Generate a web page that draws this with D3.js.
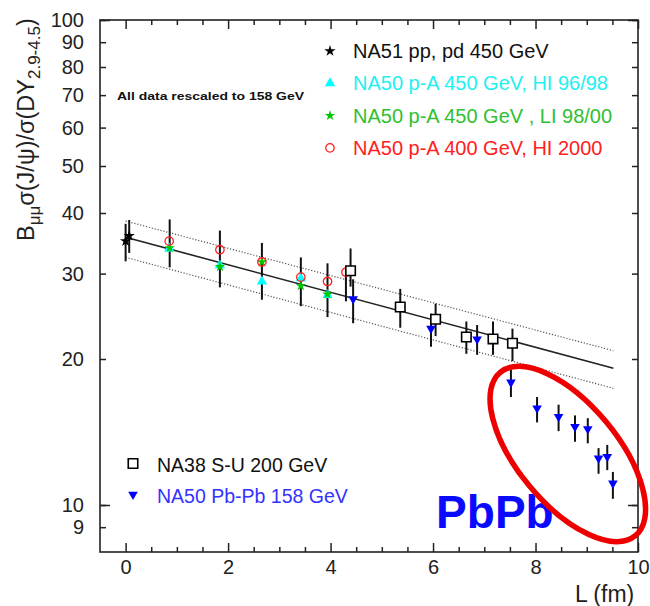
<!DOCTYPE html>
<html>
<head>
<meta charset="utf-8">
<script src="https://cdn.jsdelivr.net/npm/d3@7"></script>
<style>
  body { margin: 0; background: #fff; }
  svg { display: block; }
  text { font-family: "Liberation Sans", Arial, Helvetica, sans-serif; }
</style>
</head>
<body>
<svg id="chart" width="650" height="606"></svg>
<script>
// J/psi / Drell-Yan ratio versus path length L, all rescaled to 158 GeV.

// NA51 pp, pd 450 GeV
const na51L   = [0.00, 0.07];
const na51Val = [35.0, 35.9];
const na51Lo  = [31.8, 33.1];
const na51Hi  = [38.0, 38.7];

// NA50 p-A 450 GeV, HI 96/98
const hiL   = [0.85, 1.84, 2.66, 3.42, 3.94];
const hiVal = [33.8, 31.2, 28.9, 29.3, 27.1];

// NA50 p-A 450 GeV, LI 98/00 (error bars shared by the p-A points)
const liL   = [0.86, 1.84, 2.66, 3.42, 3.94];
const liVal = [33.9, 31.0, 31.7, 28.3, 27.2];
const liLo  = [30.9, 28.1, 26.5, 25.7, 24.4];
const liHi  = [38.8, 36.8, 34.7, 32.4, 31.5];

// NA50 p-A 400 GeV, HI 2000
const hi2000L   = [0.85, 1.84, 2.66, 3.42, 3.94, 4.30];
const hi2000Val = [35.0, 33.6, 31.7, 29.5, 28.9, 30.2];
const hi2000Lo  = [null, null, null, null, null, 26.3];
const hi2000Hi  = [null, null, null, null, null, 31.0];

// NA38 S-U 200 GeV
const suL   = [4.39, 5.36, 6.05, 6.65, 7.17, 7.55];
const suVal = [30.4, 25.6, 24.15, 22.2, 22.0, 21.55];
const suLo  = [28.2, 23.2, 22.3, 20.5, 20.4, 19.8];
const suHi  = [33.8, 27.9, 26.0, 23.9, 23.9, 23.1];

// NA50 Pb-Pb 158 GeV
const pbL   = [4.44, 5.96, 6.86, 7.52, 8.03, 8.45, 8.77, 9.02, 9.23, 9.40, 9.51];
const pbVal = [26.6, 23.1, 21.96, 17.9, 15.83, 15.21, 14.5, 14.35, 12.49, 12.58, 11.08];
const pbLo  = [23.7, 21.2, 20.4, 16.7, 14.8, 14.2, 13.5, 13.4, 11.6, 11.8, 10.3];
const pbHi  = [29.2, 24.8, 23.5, 19.0, 16.7, 16.1, 15.3, 15.1, 13.1, 13.3, 11.7];

// Exponential absorption fit (straight on the log axis) and its error band
const fitL     = [0, 9.52];
const fitVal   = [35.65, 19.14];
const fitUpper = [38.5, 20.8];
const fitLower = [32.4, 17.4];

// Axis ticks
const xMajorTicks = [0, 2, 4, 6, 8, 10];
const xMinorTicks = [0.5, 1, 1.5, 2.5, 3, 3.5, 4.5, 5, 5.5, 6.5, 7, 7.5, 8.5, 9, 9.5];
const yLabelTicks = [9, 10, 20, 30, 40, 50, 60, 70, 80, 90, 100];
const yMajorTicks = [10, 100];

// Legend labels
const topLegend = [
  "NA51 pp, pd 450 GeV",
  "NA50 p-A 450 GeV, HI 96/98",
  "NA50 p-A 450 GeV , LI 98/00",
  "NA50 p-A 400 GeV, HI 2000"
];
const bottomLegend = ["NA38 S-U 200 GeV", "NA50 Pb-Pb 158 GeV"];

// Highlighted Pb-Pb region
const highlightCenter = { L: 8.63, val: 12.74 };
const highlightLabel  = { L: 6.06, val: 8.98, text: "PbPb" };

const svg = d3.select("#chart");
const plotLeft = 100, plotRight = 638, plotTop = 20, plotBottom = 552;

const x = d3.scaleLinear().domain([-0.5, 10]).range([plotLeft, plotRight]);
const y = d3.scaleLog().domain([8, 100]).range([plotBottom, plotTop]);

const axisColor = "#222";

// ----- axes -----
function styleAxis(g) {
  g.select(".domain").remove();
  g.selectAll(".tick line").attr("stroke", axisColor).attr("stroke-width", 1.5);
  g.selectAll(".tick text")
    .attr("fill", axisColor)
    .style("font-family", "'Liberation Sans', Arial, sans-serif");
}

// bottom x axis with labels, ticks pointing into the plot
svg.append("g").attr("transform", `translate(0,${plotBottom})`)
  .call(d3.axisBottom(x).tickValues(xMajorTicks).tickSizeInner(-9).tickSizeOuter(0)
        .tickPadding(8).tickFormat(d3.format("d")))
  .call(styleAxis)
  .call(g => g.selectAll(".tick text").style("font-size", "20px"));
svg.append("g").attr("transform", `translate(0,${plotBottom})`)
  .call(d3.axisBottom(x).tickValues(xMinorTicks).tickSizeInner(-5).tickSizeOuter(0).tickFormat(""))
  .call(styleAxis);

// top mirror axis
svg.append("g").attr("transform", `translate(0,${plotTop})`)
  .call(d3.axisTop(x).tickValues(xMajorTicks).tickSizeInner(-9).tickSizeOuter(0).tickFormat(""))
  .call(styleAxis);
svg.append("g").attr("transform", `translate(0,${plotTop})`)
  .call(d3.axisTop(x).tickValues(xMinorTicks).tickSizeInner(-5).tickSizeOuter(0).tickFormat(""))
  .call(styleAxis);

// left log axis with labels
svg.append("g").attr("transform", `translate(${plotLeft},0)`)
  .call(d3.axisLeft(y).tickValues(yLabelTicks).tickSizeInner(-6).tickSizeOuter(0)
        .tickPadding(16).tickFormat(d3.format("d")))
  .call(styleAxis)
  .call(g => g.selectAll(".tick text").style("font-size", "20px"));
svg.append("g").attr("transform", `translate(${plotLeft},0)`)
  .call(d3.axisLeft(y).tickValues(yMajorTicks).tickSizeInner(-10).tickSizeOuter(0).tickFormat(""))
  .call(styleAxis);

// right mirror axis
svg.append("g").attr("transform", `translate(${plotRight},0)`)
  .call(d3.axisRight(y).tickValues(yLabelTicks).tickSizeInner(-6).tickSizeOuter(0).tickFormat(""))
  .call(styleAxis);
svg.append("g").attr("transform", `translate(${plotRight},0)`)
  .call(d3.axisRight(y).tickValues(yMajorTicks).tickSizeInner(-10).tickSizeOuter(0).tickFormat(""))
  .call(styleAxis);

// frame
svg.append("rect")
  .attr("x", plotLeft).attr("y", plotTop)
  .attr("width", plotRight - plotLeft).attr("height", plotBottom - plotTop)
  .attr("fill", "none").attr("stroke", axisColor).attr("stroke-width", 1.6);

// axis titles
const yTitle = svg.append("text")
  .attr("transform", `translate(34,241) rotate(-90)`)
  .attr("fill", axisColor)
  .style("font-size", "23.5px");
yTitle.append("tspan").text("B");
yTitle.append("tspan").attr("dy", 6).style("font-size", "17px").text("μμ");
yTitle.append("tspan").attr("dy", -6).text("σ(J/ψ)/σ(DY");
yTitle.append("tspan").attr("dy", 6).style("font-size", "17px").text("2.9-4.5");
yTitle.append("tspan").attr("dy", -6).text(")");

svg.append("text")
  .attr("x", 575).attr("y", 602)
  .attr("fill", axisColor)
  .style("font-size", "23px")
  .text("L (fm)");

svg.append("text")
  .attr("x", 117).attr("y", 100)
  .attr("fill", "#111")
  .attr("textLength", 187)
  .attr("lengthAdjust", "spacingAndGlyphs")
  .style("font-size", "11.5px").style("font-weight", "bold")
  .text("All data rescaled to 158 GeV");

// ----- fit line and band -----
const fitLine = d3.line().x(d => x(d[0])).y(d => y(d[1]));
[fitUpper, fitLower].forEach(vals => {
  svg.append("path")
    .datum(d3.zip(fitL, vals))
    .attr("d", fitLine)
    .attr("fill", "none")
    .attr("stroke", "#555")
    .attr("stroke-width", 1.2)
    .attr("stroke-dasharray", "1.2 1.8");
});
svg.append("path")
  .datum(d3.zip(fitL, fitVal))
  .attr("d", fitLine)
  .attr("fill", "none")
  .attr("stroke", "#222")
  .attr("stroke-width", 1.6);

// ----- error bars -----
function errorBars(Ls, lo, hi) {
  const rows = Ls.map((L, i) => ({ L, lo: lo[i], hi: hi[i] })).filter(d => d.lo != null);
  svg.append("g").selectAll("line").data(rows).join("line")
    .attr("x1", d => x(d.L)).attr("x2", d => x(d.L))
    .attr("y1", d => y(d.lo)).attr("y2", d => y(d.hi))
    .attr("stroke", "#111").attr("stroke-width", 2);
}
errorBars(na51L, na51Lo, na51Hi);
errorBars(liL, liLo, liHi);
errorBars(hi2000L, hi2000Lo, hi2000Hi);
errorBars(suL, suLo, suHi);
errorBars(pbL, pbLo, pbHi);

// ----- markers -----
const shapes = {
  star:    { type: d3.symbolStar,     size: 40, fill: "#000",    stroke: "none", rot: 0 },
  cyanTri: { type: d3.symbolTriangle, size: 46, fill: "#00ffff", stroke: "none", rot: 0 },
  gStar:   { type: d3.symbolStar,     size: 34, fill: "#00c800", stroke: "none", rot: 0 },
  circle:  { type: d3.symbolCircle,   size: 56, fill: "none",    stroke: "#ff2020", rot: 0, sw: 1.3 },
  square:  { type: d3.symbolSquare,   size: 90, fill: "#fff",    stroke: "#000",    rot: 0, sw: 1.6 },
  downTri: { type: d3.symbolTriangle, size: 40, fill: "#0000ff", stroke: "none", rot: 180 }
};

function drawSymbol(g, s, cx, cy) {
  g.append("path")
    .attr("d", d3.symbol().type(s.type).size(s.size)())
    .attr("transform", `translate(${cx},${cy}) rotate(${s.rot})`)
    .attr("fill", s.fill)
    .attr("stroke", s.stroke)
    .attr("stroke-width", s.sw || 0);
}

function series(Ls, vals, s) {
  const g = svg.append("g");
  Ls.forEach((L, i) => drawSymbol(g, s, x(L), y(vals[i])));
}
series(na51L, na51Val, shapes.star);
series(hiL, hiVal, shapes.cyanTri);
series(liL, liVal, shapes.gStar);
series(hi2000L, hi2000Val, shapes.circle);
series(suL, suVal, shapes.square);
series(pbL, pbVal, shapes.downTri);

// ----- legends -----
const topColors = ["#111", "#22f0f0", "#30c030", "#ff2020"];
const topShapes = [shapes.star, shapes.cyanTri, shapes.gStar, shapes.circle];
const legTop = svg.append("g");
topLegend.forEach((label, i) => {
  const cy = 51 + i * 32.3;
  drawSymbol(legTop, topShapes[i], 330, cy);
  legTop.append("text")
    .attr("x", 353).attr("y", cy + 7)
    .attr("fill", topColors[i])
    .style("font-size", "20px")
    .text(label);
});

const bottomColors = ["#111", "#3333ff"];
const bottomShapes = [shapes.square, shapes.downTri];
const legBottom = svg.append("g");
bottomLegend.forEach((label, i) => {
  const cy = 463.5 + i * 31;
  drawSymbol(legBottom, bottomShapes[i], 133, cy);
  legBottom.append("text")
    .attr("x", 157).attr("y", cy + 8)
    .attr("fill", bottomColors[i])
    .style("font-size", "19.5px")
    .text(label);
});

// ----- Pb-Pb highlight -----
svg.append("text")
  .attr("x", x(highlightLabel.L)).attr("y", y(highlightLabel.val))
  .attr("fill", "#0a0aff")
  .style("font-size", "46px").style("font-weight", "bold")
  .text(highlightLabel.text);

svg.append("ellipse")
  .attr("transform", `translate(${x(highlightCenter.L)},${y(highlightCenter.val)}) rotate(50.4)`)
  .attr("rx", 106).attr("ry", 50)
  .attr("fill", "none")
  .attr("stroke", "#ee0000")
  .attr("stroke-width", 5.5);
</script>
</body>
</html>
